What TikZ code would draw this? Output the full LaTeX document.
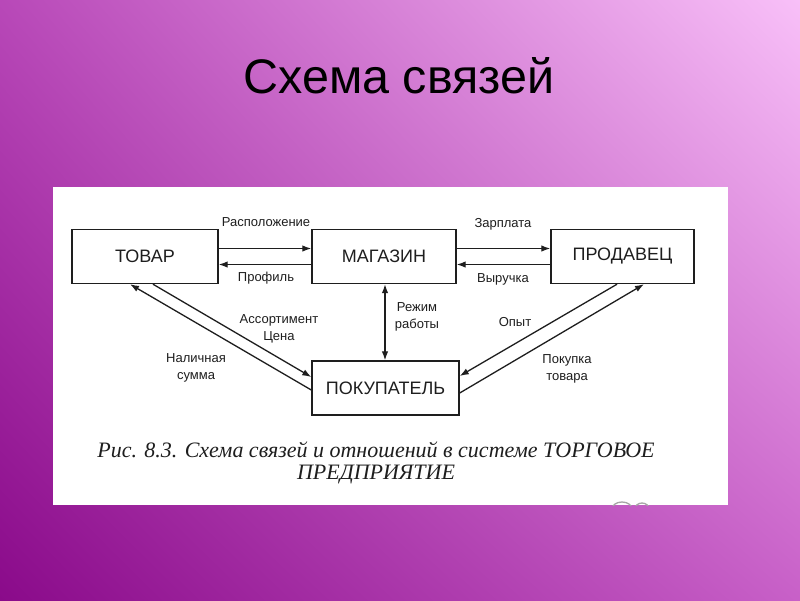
\documentclass[tikz,border=0pt]{standalone}
\usepackage{fontspec}
\setmainfont{Liberation Sans}
\newfontfamily\capfont{Liberation Serif}
\usetikzlibrary{arrows.meta,shadings}
\definecolor{bgUL}{RGB}{184,72,184}
\definecolor{bgUR}{RGB}{248,192,248}
\definecolor{bgLL}{RGB}{138,10,138}
\definecolor{bgLR}{RGB}{200,96,200}
\definecolor{ink}{RGB}{30,30,30}
\tikzset{
  box/.style={draw=ink, line width=1.4pt, minimum height=54pt, inner sep=0pt, font=\fontsize{18}{20}\selectfont, text=ink},
  lbl/.style={font=\fontsize{13}{17.5}\selectfont, text=ink, align=center, inner sep=0pt},
  arr/.style={draw=ink, line width=1.3pt, -{Latex[length=9pt,width=6.5pt]}},
  darr/.style={draw=ink, line width=1.3pt, {Latex[length=9pt,width=6.5pt]}-{Latex[length=9pt,width=6.5pt]}}
}
\begin{document}
\begin{tikzpicture}[x=1pt,y=-1pt]
\useasboundingbox (0,0) rectangle (800,600);
\shade[upper left=bgUL, upper right=bgUR, lower left=bgLL, lower right=bgLR] (0,0) rectangle (800,600);
\node[font=\fontsize{48.5}{52}\selectfont, text=black] (title) at (399,76) {Схема связей};
\fill[white] (53,187) rectangle (728,505);

\node[box, minimum width=146pt] (tovar) at (145,256.5) {ТОВАР};
\node[box, minimum width=144pt] (magazin) at (384,256.5) {МАГАЗИН};
\node[box, minimum width=143pt] (prodavec) at (622.5,256.5) {ПРОДАВЕЦ};
\node[box, minimum width=147pt] (pokup) at (385.5,388) {ПОКУПАТЕЛЬ};

% horizontal arrows
\draw[arr] ([yshift=8pt]tovar.east) -- ([yshift=8pt]magazin.west);
\draw[arr] ([yshift=-8pt]magazin.west) -- ([yshift=-8pt]tovar.east);
\draw[arr] ([yshift=8pt]magazin.east) -- ([yshift=8pt]prodavec.west);
\draw[arr] ([yshift=-8pt]prodavec.west) -- ([yshift=-8pt]magazin.east);

% vertical double arrow
\draw[darr] ([xshift=1pt]magazin.south) -- ([xshift=-0.5pt]pokup.north);

% left diagonals
\draw[arr] ([xshift=8pt]tovar.south) -- ([yshift=11pt]pokup.west);
\draw[arr] ([yshift=-2pt]pokup.west) -- ([xshift=-15pt]tovar.south);

% right diagonals
\draw[arr] ([xshift=-5.5pt]prodavec.south) -- ([yshift=12pt]pokup.east);
\draw[arr] ([yshift=-5pt]pokup.east) -- ([xshift=21.5pt]prodavec.south);

% labels
\node[lbl] (l1) at (266,222) {Расположение};
\node[lbl] (l2) at (266,278) {Профиль};
\node[lbl] (l3) at (503,224) {Зарплата};
\node[lbl] (l4) at (503,279) {Выручка};
\node[lbl] (l5) at (417,317) {Режим\\работы};
\node[lbl] (l6) at (279,329) {Ассортимент\\Цена};
\node[lbl] (l7) at (196,368) {Наличная\\сумма};
\node[lbl] (l8) at (515,322) {Опыт};
\node[lbl] (l9) at (567,369) {Покупка\\товара};

% caption
\node[font=\capfont\itshape\fontsize{22}{22}\selectfont, text=ink, align=center, inner sep=0pt] (cap) at (376,463)
  {Рис. 8.3. Схема связей и отношений в системе ТОРГОВОЕ\\ПРЕДПРИЯТИЕ};

% cut-off marks at the bottom edge
\begin{scope}
\clip (53,187) rectangle (728,505);
\draw[gray!70, line width=1.3pt] (622,509) ellipse [x radius=10, y radius=7];
\draw[gray!70, line width=1.3pt] (642,509) ellipse [x radius=7, y radius=6];
\end{scope}
\end{tikzpicture}
\end{document}
